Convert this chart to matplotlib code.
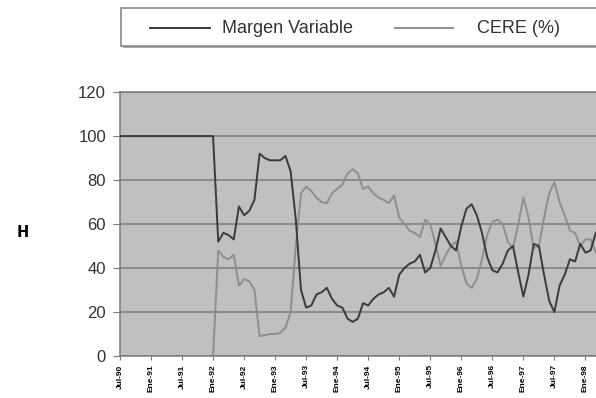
import matplotlib
matplotlib.use("Agg")
import matplotlib.pyplot as plt
from matplotlib.lines import Line2D
from matplotlib.patches import Rectangle
import numpy as np

plt.rcParams["font.family"] = ["Liberation Sans", "DejaVu Sans"]

# monthly series, one value per month starting at the first tick
margen = [100] * 19 + [
    52, 56, 55, 53, 68, 64, 66, 71, 92, 90,
    89, 89, 89, 91, 84, 62, 30, 22, 23, 28,
    29, 31, 26, 23, 22, 17, 15.5, 17, 24, 23,
    26, 28, 29, 31, 27, 37, 40, 42, 43, 46,
    38, 40, 48, 58, 54, 50, 48, 59, 67, 69,
    64, 56, 45, 39, 38, 42, 48, 50, 38, 27,
    37, 51, 50, 37, 25, 20, 32, 37, 44, 43,
    51, 47, 48, 56,
]
cere = [0] * 19 + [
    48, 45, 44, 46, 32, 35, 34, 30, 9, 9.5,
    10, 10, 10.5, 13, 20, 50, 74, 77, 75, 72,
    70, 69.5, 74, 76, 78, 83, 85, 83, 76, 77,
    74, 72, 71, 69.5, 73, 63, 60, 57, 56, 54,
    62, 60, 51, 41, 46, 50, 52, 41, 33, 31,
    35, 44, 55, 61, 62, 60, 52, 49, 60, 72,
    63, 49, 50, 63, 74, 79, 70, 64, 57, 56,
    50, 53, 53, 47,
]
tick_labels = [
    "Jul-90", "Ene-91", "Jul-91", "Ene-92", "Jul-92", "Ene-93", "Jul-93", "Ene-94",
    "Jul-94", "Ene-95", "Jul-95", "Ene-96", "Jul-96", "Ene-97", "Jul-97", "Ene-98",
]

months = np.arange(len(margen))

fig = plt.figure(figsize=(5.96, 3.98), dpi=100)
ax = fig.add_axes([0.2013, 0.1055, 0.807, 0.663])
ax.set_facecolor("#c0c0c0")

ax.plot(months, margen, color="#3a3a3a", lw=1.4, zorder=3)
ax.plot(months, cere, color="#8e8e8e", lw=1.4, zorder=2)

ax.set_xlim(0, 93)
ax.set_ylim(0, 120)
ax.set_yticks(np.arange(0, 121, 20))
ax.yaxis.grid(True, color="#7a7a7a", lw=1.1)
ax.set_axisbelow(True)

ax.set_xticks(np.arange(0, 6 * len(tick_labels), 6))
ax.set_xticklabels(tick_labels, rotation=90, fontsize=6, fontweight="bold",
                   color="black", va="top")

ax.tick_params(axis="y", length=5, color="#7a7a7a", labelsize=12,
               labelcolor="#333333", pad=5)
ax.tick_params(axis="x", length=3, color="#7a7a7a", pad=3)
for side in ["left", "bottom", "top"]:
    ax.spines[side].set_color("#7a7a7a")
    ax.spines[side].set_linewidth(1.1)
ax.spines["right"].set_visible(False)

# axis title glyph
fig.text(0.039, 0.417, "H", family="DejaVu Sans", fontweight="bold",
         fontsize=10.5, ha="center", va="center", color="black")

# legend box along the top
fig.patches.append(Rectangle((0.206, 0.879), 0.81, 0.097, transform=fig.transFigure,
                             facecolor="#a8a8a8", edgecolor="none", zorder=0))
fig.patches.append(Rectangle((0.203, 0.884), 0.81, 0.097, transform=fig.transFigure,
                             facecolor="white", edgecolor="#8a8a8a", lw=1.2, zorder=1))
fig.lines.append(Line2D([0.252, 0.352], [0.929, 0.929], transform=fig.transFigure,
                        color="#3a3a3a", lw=1.4))
fig.lines.append(Line2D([0.663, 0.760], [0.929, 0.929], transform=fig.transFigure,
                        color="#8e8e8e", lw=1.4))
fig.text(0.372, 0.929, "Margen Variable", fontsize=13, color="#333333",
         va="center", ha="left")
fig.text(0.800, 0.929, "CERE (%)", fontsize=13, color="#333333",
         va="center", ha="left")

fig.savefig("out.png", dpi=100)
